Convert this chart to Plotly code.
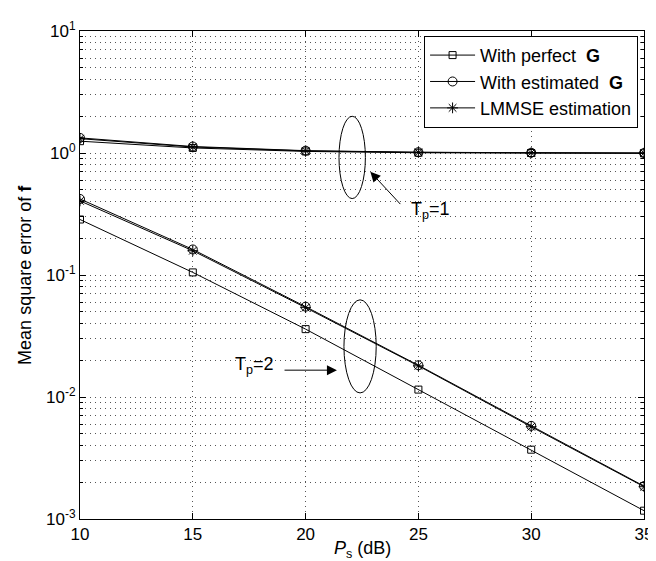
import plotly.graph_objects as go

# ---------------- data ----------------
ps_db = [10, 15, 20, 25, 30, 35]

tp1_perfect = [1.25, 1.10, 1.03, 1.005, 1.0, 0.995]
tp1_estimated = [1.33, 1.13, 1.045, 1.015, 1.005, 1.0]
tp1_lmmse = [1.31, 1.12, 1.04, 1.012, 1.003, 0.998]

tp2_perfect = [0.285, 0.105, 0.036, 0.0115, 0.0037, 0.00117]
tp2_estimated = [0.42, 0.162, 0.055, 0.0182, 0.0058, 0.00186]
tp2_lmmse = [0.405, 0.158, 0.054, 0.018, 0.0057, 0.00184]

series_names = ["With perfect  <b>G</b>", "With estimated  <b>G</b>", "LMMSE estimation"]

x_ticks = [10, 15, 20, 25, 30, 35]
y_major = [1e-3, 1e-2, 1e-1, 1e0, 1e1]
y_major_text = ["10<sup>-3</sup>", "10<sup>-2</sup>", "10<sup>-1</sup>", "10<sup>0</sup>", "10<sup>1</sup>"]
y_minor = [m * 10.0 ** e for e in range(-3, 1) for m in range(2, 10)]

# ---------------- figure ----------------
fig = go.Figure()

symbols = ["square-open", "circle-open", "asterisk-open"]
sizes = [7, 9, 9]
data_tp1 = [tp1_perfect, tp1_estimated, tp1_lmmse]
data_tp2 = [tp2_perfect, tp2_estimated, tp2_lmmse]

for i, name in enumerate(series_names):
    for j, ys in enumerate([data_tp1[i], data_tp2[i]]):
        fig.add_trace(go.Scatter(
            x=ps_db, y=ys, mode="lines+markers", name=name,
            legendgroup=name, showlegend=(j == 0),
            line=dict(color="black", width=1),
            marker=dict(symbol=symbols[i], size=sizes[i], color="black",
                        line=dict(color="black", width=1)),
        ))

grid_dash = "1px,4px"
grid_col = "#555555"

fig.update_layout(
    width=656, height=561,
    margin=dict(l=72, r=11, t=19, b=50),
    paper_bgcolor="white", plot_bgcolor="white",
    font=dict(family="Liberation Sans, Arial, Helvetica, sans-serif", size=16, color="black"),
    legend=dict(x=0.9895, y=0.99, xanchor="right", yanchor="top",
                bgcolor="white", bordercolor="black", borderwidth=1,
                font=dict(size=18), tracegroupgap=0, itemwidth=45),
    xaxis=dict(range=[10, 35], tickvals=x_ticks, ticks="inside", ticklen=6,
               tickcolor="black", showline=True, linecolor="black", linewidth=1,
               mirror="allticks", showgrid=True, gridcolor=grid_col,
               griddash=grid_dash, gridwidth=1, zeroline=False,
               tickfont=dict(size=17)),
    yaxis=dict(type="log", range=[-3, 1], tickvals=y_major, ticktext=y_major_text,
               ticks="inside", ticklen=6, tickcolor="black", showline=True,
               linecolor="black", linewidth=1, mirror="allticks", showgrid=True,
               gridcolor=grid_col, griddash=grid_dash, gridwidth=1,
               zeroline=False, tickfont=dict(size=17),
               minor=dict(tickvals=y_minor, ticks="inside", ticklen=3,
                          tickcolor="black", showgrid=True, gridcolor=grid_col,
                          griddash=grid_dash, gridwidth=1)),
)

# ellipses
fig.add_shape(type="circle", xref="x", yref="y", x0=21.48, x1=22.65, y0=0.423, y1=2.0,
              line=dict(color="black", width=1))
fig.add_shape(type="circle", xref="x", yref="y", x0=21.7, x1=23.13, y0=0.0108, y1=0.0626,
              line=dict(color="black", width=1))

# arrows
fig.add_annotation(x=22.87, y=-0.154, ax=24.26, ay=-0.431, xref="x", yref="y",
                   axref="x", ayref="y", text="", showarrow=True, arrowhead=2,
                   arrowsize=2, arrowwidth=1, arrowcolor="black")
fig.add_annotation(x=21.39, y=-1.78, ax=19.0, ay=-1.78, xref="x", yref="y",
                   axref="x", ayref="y", text="", showarrow=True, arrowhead=2,
                   arrowsize=2, arrowwidth=1, arrowcolor="black")

# labels
fig.add_annotation(x=24.6, y=-0.47, xref="x", yref="y", text="T<sub>p</sub>=1",
                   showarrow=False, xanchor="left", yanchor="middle", font=dict(size=18))
fig.add_annotation(x=16.78, y=-1.74, xref="x", yref="y", text="T<sub>p</sub>=2",
                   showarrow=False, xanchor="left", yanchor="middle", font=dict(size=18))

# axis titles
fig.add_annotation(x=-0.0977, y=0.5, xref="paper", yref="paper",
                   text="Mean square error of <b>f</b>", textangle=-90,
                   showarrow=False, xanchor="center", yanchor="middle", font=dict(size=18))
fig.add_annotation(x=0.5, y=-0.062, xref="paper", yref="paper",
                   text="<i>P</i><sub>s</sub> (dB)", showarrow=False,
                   xanchor="center", yanchor="middle", font=dict(size=18))

fig.write_html("out.html")
